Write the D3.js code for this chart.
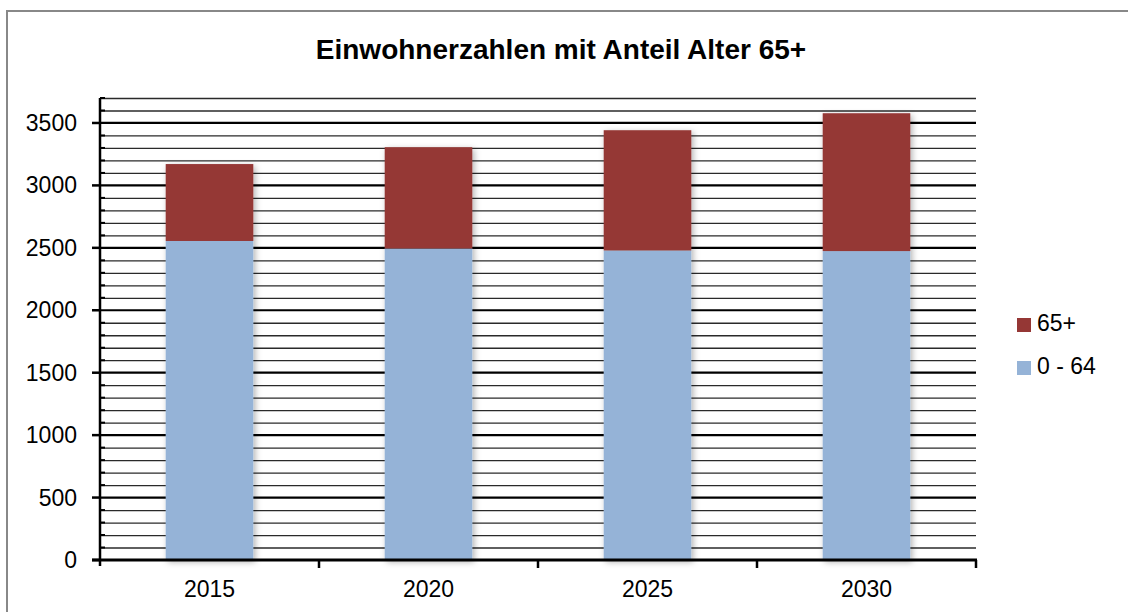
<!DOCTYPE html>
<html>
<head>
<meta charset="utf-8">
<script src="https://cdn.jsdelivr.net/npm/d3@7"></script>
<style>
  body { margin: 0; background: #fff; }
  svg { display: block; font-family: "Liberation Sans", Arial, sans-serif; }
</style>
</head>
<body>
<script>
// Daten
var years = ["2015", "2020", "2025", "2030"];
var young = [2555, 2495, 2479, 2474];   // 0 - 64
var old = [616, 811, 963, 1104];        // 65+
var seriesNames = ["0 - 64", "65+"];
var seriesColors = ["#95b3d7", "#953735"];
var yMajorTicks = [0, 500, 1000, 1500, 2000, 2500, 3000, 3500];

var W = 1128, H = 612;
var plotL = 100, plotR = 976, plotT = 98, plotB = 560;

var svg = d3.select("body").append("svg").attr("width", W).attr("height", H);

// Schatten für die Balken
var defs = svg.append("defs");
var f = defs.append("filter").attr("id", "shadow").attr("x", "-20%").attr("y", "-5%").attr("width", "140%").attr("height", "110%");
f.append("feDropShadow").attr("dx", 2).attr("dy", 2).attr("stdDeviation", 3).attr("flood-color", "#000").attr("flood-opacity", 0.3);

// Rahmen
svg.append("rect").attr("x", 7).attr("y", 11).attr("width", W + 20).attr("height", H + 20)
  .attr("fill", "none").attr("stroke", "#888").attr("stroke-width", 2);

svg.append("text").attr("x", 561).attr("y", 59).attr("text-anchor", "middle")
  .style("font-size", "28px").style("font-weight", "bold").text("Einwohnerzahlen mit Anteil Alter 65+");

var y = d3.scaleLinear().domain([0, 3700]).range([plotB, plotT]);
var x = d3.scaleBand().domain(years).range([plotL, plotR]).padding(0);

// Gitterlinien (klein alle 100, groß alle 500)
var minor = d3.range(100, 3701, 100).filter(function (v) { return v % 500 !== 0; });
svg.append("g").selectAll("line").data(minor).enter().append("line")
  .attr("x1", plotL).attr("x2", plotR)
  .attr("y1", function (d) { return y(d) + 0.5; }).attr("y2", function (d) { return y(d) + 0.5; })
  .attr("stroke", "#2a2a2a").attr("stroke-width", 1.3);
svg.append("g").selectAll("line").data(yMajorTicks.slice(1)).enter().append("line")
  .attr("x1", plotL).attr("x2", plotR)
  .attr("y1", function (d) { return y(d); }).attr("y2", function (d) { return y(d); })
  .attr("stroke", "#000").attr("stroke-width", 2.2);

// gestapelte Balken
var stackData = years.map(function (yr, i) { return { year: yr, "0 - 64": young[i], "65+": old[i] }; });
var stacked = d3.stack().keys(seriesNames)(stackData);
var bw = x.bandwidth() * 0.4;

var barsG = svg.append("g");
years.forEach(function (yr, i) {
  var g = barsG.append("g").attr("filter", "url(#shadow)");
  stacked.forEach(function (s, k) {
    g.append("rect")
      .attr("x", x(yr) + (x.bandwidth() - bw) / 2)
      .attr("width", bw)
      .attr("y", y(s[i][1]))
      .attr("height", y(s[i][0]) - y(s[i][1]))
      .attr("fill", seriesColors[k]);
  });
});

// y-Achse
var ya = svg.append("g");
ya.append("line").attr("x1", plotL).attr("x2", plotL).attr("y1", plotT).attr("y2", plotB + 6)
  .attr("stroke", "#000").attr("stroke-width", 2.5);
ya.selectAll(".mn").data(d3.range(100, 3701, 100).filter(function (v) { return v % 500 !== 0; }))
  .enter().append("line")
  .attr("x1", plotL).attr("x2", plotL + 5)
  .attr("y1", function (d) { return y(d); }).attr("y2", function (d) { return y(d); })
  .attr("stroke", "#000").attr("stroke-width", 2);
ya.selectAll(".mj").data(yMajorTicks).enter().append("line")
  .attr("x1", plotL - 8).attr("x2", plotL)
  .attr("y1", function (d) { return y(d); }).attr("y2", function (d) { return y(d); })
  .attr("stroke", "#000").attr("stroke-width", 2.5);
ya.selectAll("text").data(yMajorTicks).enter().append("text")
  .attr("x", 77).attr("y", function (d) { return y(d) + 8; })
  .attr("text-anchor", "end").style("font-size", "23px").text(function (d) { return d; });

// x-Achse
var xa = svg.append("g");
xa.append("line").attr("x1", plotL - 8).attr("x2", plotR + 1).attr("y1", plotB).attr("y2", plotB)
  .attr("stroke", "#000").attr("stroke-width", 3);
xa.selectAll("line.t").data(years).enter().append("line")
  .attr("x1", function (d) { return x(d) + x.bandwidth(); }).attr("x2", function (d) { return x(d) + x.bandwidth(); })
  .attr("y1", plotB).attr("y2", plotB + 8)
  .attr("stroke", "#000").attr("stroke-width", 2.5);
xa.selectAll("text").data(years).enter().append("text")
  .attr("x", function (d) { return x(d) + x.bandwidth() / 2; }).attr("y", 597)
  .attr("text-anchor", "middle").style("font-size", "23px").text(function (d) { return d; });

// Legende (65+ zuerst)
var legendItems = [1, 0];
var lg = svg.append("g");
legendItems.forEach(function (k, i) {
  lg.append("rect").attr("x", 1017).attr("y", 318 + i * 43).attr("width", 14).attr("height", 14)
    .attr("fill", seriesColors[k]);
  lg.append("text").attr("x", 1037).attr("y", 331 + i * 43).style("font-size", "23px").text(seriesNames[k]);
});
</script>
</body>
</html>
